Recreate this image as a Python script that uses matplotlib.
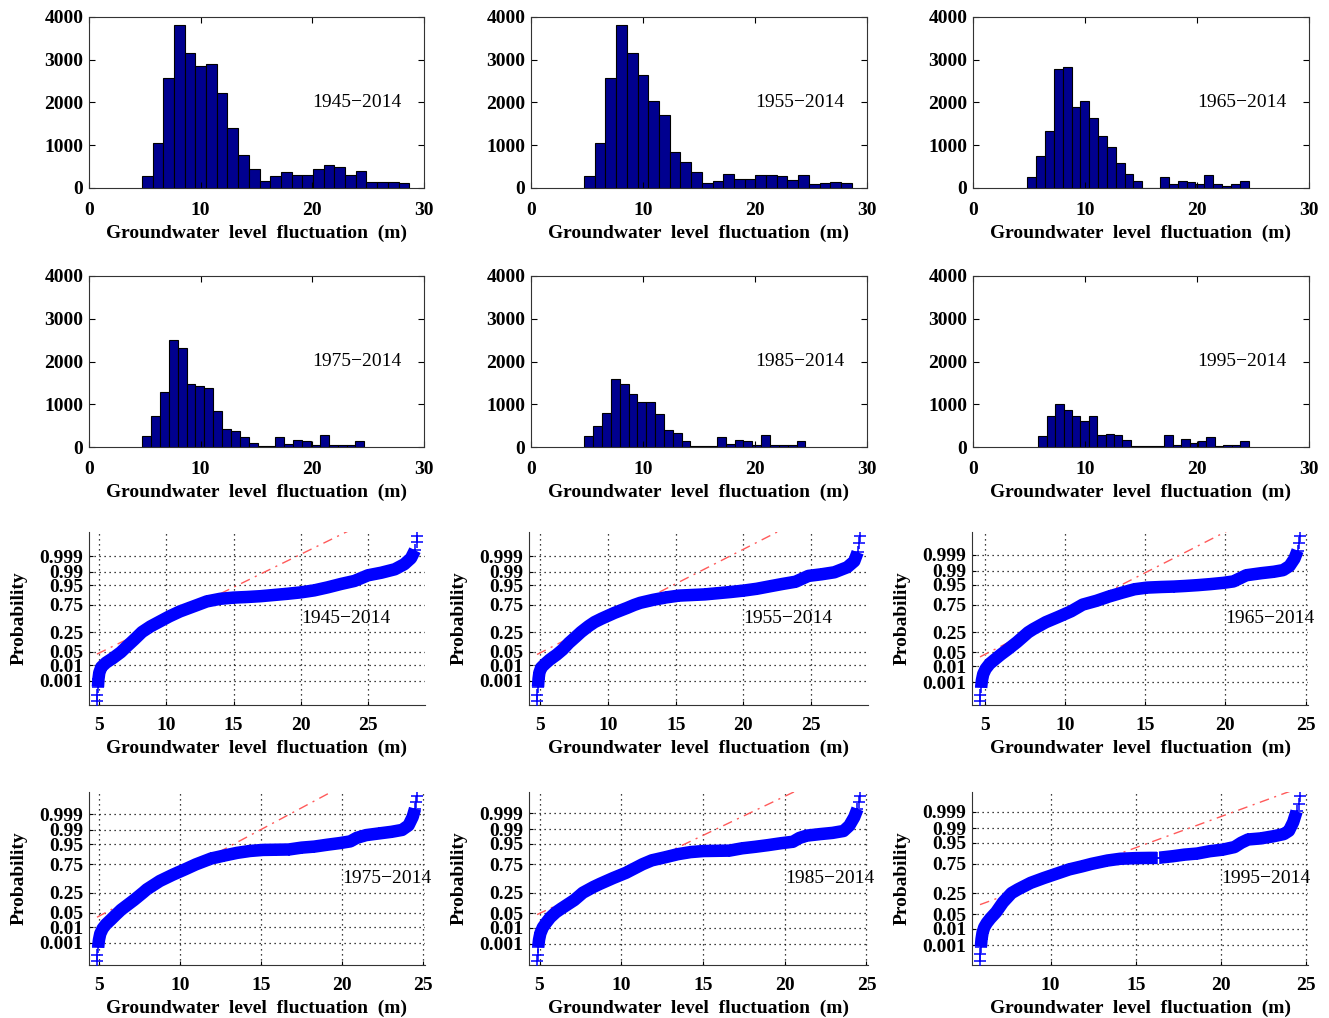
import numpy as np
import matplotlib
matplotlib.use("Agg")
import matplotlib.pyplot as plt
from statistics import NormalDist

plt.rcParams['font.family'] = ['Liberation Serif', 'DejaVu Serif']
plt.rcParams['font.weight'] = 'bold'
plt.rcParams['font.size'] = 14

# ---------------------------------------------------------------------------
# Data
# ---------------------------------------------------------------------------
periods = ["1945\u22122014", "1955\u22122014", "1965\u22122014",
           "1975\u22122014", "1985\u22122014", "1995\u22122014"]

# histogram: (lowest value, highest value) and counts of 25 equal-width bins
range_1945 = (4.74, 28.68)
counts_1945 = [290, 1053, 2580, 3809, 3153, 2847, 2901, 2221, 1397, 763, 450, 168, 282,
               366, 313, 313, 450, 542, 481, 313, 397, 137, 137, 137, 115]
range_1955 = (4.73, 28.64)
counts_1955 = [275, 1053, 2580, 3809, 3153, 2641, 2038, 1702, 847, 618, 366, 107, 160,
               336, 221, 221, 305, 305, 275, 183, 313, 84, 107, 137, 107]
range_1965 = (4.85, 24.60)
counts_1965 = [252, 748, 1328, 2779, 2840, 1893, 2038, 1641, 1214, 962, 595, 336, 160,
               0, 0, 252, 92, 168, 137, 92, 313, 92, 46, 84, 160]
range_1975 = (4.75, 24.66)
counts_1975 = [258, 719, 1297, 2492, 2320, 1477, 1422, 1391, 836, 430, 367, 227, 102,
               23, 23, 227, 78, 164, 133, 55, 281, 47, 47, 47, 133]
range_1985 = (4.76, 24.50)
counts_1985 = [258, 492, 805, 1594, 1477, 1242, 1055, 1055, 773, 391, 336, 133, 16,
               16, 16, 227, 78, 164, 133, 55, 281, 47, 47, 47, 133]
range_1995 = (5.83, 24.60)
counts_1995 = [258, 727, 1016, 859, 727, 609, 727, 281, 313, 289, 164, 16, 16,
               16, 16, 281, 55, 195, 86, 133, 227, 16, 55, 55, 133]

# normal probability plots: fluctuation (m) and its standard normal score
fluct_1945 = [4.83, 4.86, 4.9, 4.94, 5.0, 5.15, 5.5, 6.0, 6.6, 7.1, 7.6, 8.18, 8.8, 9.5,
              10.2, 11.0, 11.6, 12.3, 13.0, 14.0, 15.0, 16.0, 17.0, 18.0, 19.0, 20.0,
              21.0, 22.0, 23.0, 24.0, 25.0, 26.0, 27.0, 27.7, 28.2, 28.5, 28.62, 28.65]
score_1945 = [-4.1, -3.8, -3.4, -3.0, -2.7, -2.42, -2.2, -1.98, -1.68, -1.36, -1.05, -0.674,
              -0.4, -0.15, 0.1, 0.35, 0.5, 0.674, 0.85, 0.98, 1.04, 1.07, 1.11, 1.17, 1.23,
              1.3, 1.4, 1.55, 1.72, 1.87, 2.15, 2.28, 2.45, 2.7, 3.0, 3.4, 3.8, 4.1]
fluct_1955 = [4.75, 4.78, 4.82, 4.86, 4.92, 5.05, 5.35, 5.69, 6.2, 6.64, 7.1, 7.6, 8.0, 8.56,
              9.0, 9.51, 10.47, 11.42, 11.93, 12.38, 13.34, 14.29, 15.25, 16.21, 17.16,
              18.12, 19.08, 20.03, 21.0, 21.94, 22.9, 23.86, 24.81, 25.77, 26.73, 27.68,
              28.2, 28.45, 28.58, 28.62]
score_1955 = [-4.1, -3.8, -3.4, -3.0, -2.7, -2.45, -2.25, -2.05, -1.8, -1.55, -1.22, -0.92,
              -0.674, -0.38, -0.18, -0.01, 0.28, 0.53, 0.674, 0.78, 0.93, 1.05, 1.14, 1.17,
              1.2, 1.26, 1.32, 1.39, 1.48, 1.6, 1.72, 1.83, 2.12, 2.2, 2.3, 2.55, 2.85, 3.3,
              3.75, 4.1]
fluct_1965 = [4.7, 4.73, 4.77, 4.82, 4.9, 5.05, 5.3, 5.64, 6.0, 6.43, 7.0, 7.7, 8.01, 8.8,
              9.59, 10.38, 11.1, 11.96, 12.75, 13.54, 14.33, 15.12, 16.0, 16.8, 17.49, 18.28,
              19.07, 19.86, 20.5, 20.9, 21.3, 22.23, 23.02, 23.6, 24.0, 24.3, 24.5, 24.6,
              24.65]
score_1965 = [-4.0, -3.7, -3.35, -3.0, -2.7, -2.45, -2.2, -1.98, -1.75, -1.5, -1.15, -0.674,
              -0.52, -0.18, 0.08, 0.35, 0.674, 0.86, 1.07, 1.25, 1.42, 1.5, 1.53, 1.55, 1.58,
              1.62, 1.67, 1.73, 1.8, 1.95, 2.1, 2.2, 2.27, 2.35, 2.55, 2.9, 3.3, 3.65, 4.0]
fluct_1975 = [4.85, 4.88, 4.92, 4.97, 5.05, 5.2, 5.4, 5.7, 6.0, 6.34, 7.14, 7.7, 7.93, 8.73,
              9.53, 10.32, 10.95, 11.91, 12.71, 13.51, 14.3, 15.1, 15.9, 16.69, 17.49,
              18.28, 19.08, 19.87, 20.5, 20.9, 21.47, 22.26, 23.06, 23.7, 24.1, 24.35, 24.5,
              24.58, 24.62]
score_1975 = [-3.95, -3.65, -3.3, -2.95, -2.65, -2.4, -2.2, -1.98, -1.75, -1.5, -1.03, -0.674,
              -0.52, -0.12, 0.18, 0.45, 0.674, 0.96, 1.1, 1.23, 1.32, 1.37, 1.38, 1.39, 1.48,
              1.53, 1.62, 1.7, 1.78, 1.95, 2.08, 2.16, 2.24, 2.33, 2.55, 2.95, 3.35, 3.65,
              3.95]
fluct_1985 = [4.85, 4.88, 4.92, 4.97, 5.05, 5.2, 5.4, 5.65, 6.0, 6.34, 7.13, 7.65, 8.3, 8.71,
              9.5, 10.29, 11.3, 11.87, 12.66, 13.45, 14.24, 15.03, 15.82, 16.61, 17.4, 18.19,
              18.98, 19.77, 20.5, 20.9, 21.35, 22.14, 22.93, 23.6, 23.95, 24.25, 24.45,
              24.55, 24.6]
score_1985 = [-3.9, -3.6, -3.25, -2.9, -2.6, -2.32, -2.1, -1.85, -1.6, -1.42, -1.02, -0.674,
              -0.4, -0.25, 0.02, 0.27, 0.674, 0.86, 1.0, 1.15, 1.25, 1.3, 1.31, 1.32, 1.43,
              1.5, 1.58, 1.67, 1.74, 1.92, 2.03, 2.1, 2.16, 2.25, 2.5, 2.9, 3.3, 3.6, 3.9]
# the 1995-2014 record has no values between 16.25 m and 16.4 m
fluct_1995 = [5.85, 5.87, 5.9, 5.94, 6.0, 6.1, 6.25, 6.45, 6.8, 7.2, 7.7, 8.08, 8.83, 9.59,
              10.34, 11.09, 11.84, 12.4, 13.34, 14.09, 15.0, 15.8, 16.25, np.nan, 16.4,
              17.2, 17.85, 18.6, 19.35, 20.1, 20.8, 21.2, 21.6, 22.35, 23.1, 23.7, 24.0,
              24.25, 24.45, 24.6, 24.65]
score_1995 = [-3.8, -3.5, -3.15, -2.8, -2.5, -2.25, -2.05, -1.85, -1.55, -1.1, -0.674, -0.5,
              -0.2, 0.02, 0.22, 0.42, 0.56, 0.674, 0.83, 0.91, 0.94, 0.95, 0.95, np.nan,
              0.96, 1.03, 1.1, 1.15, 1.26, 1.33, 1.45, 1.65, 1.8, 1.85, 1.95, 2.05, 2.2, 2.6,
              3.1, 3.45, 3.8]

# first and third quartiles of each record (reference line of the probability plot)
quartiles = [(8.18, 12.3), (8.0, 11.93), (7.7, 11.1), (7.7, 10.95), (7.65, 11.3), (7.7, 12.4)]

prob_ticks = [0.001, 0.01, 0.05, 0.25, 0.75, 0.95, 0.99, 0.999]
prob_labels = ["0.001", "0.01", "0.05", "0.25", "0.75", "0.95", "0.99", "0.999"]

hist_ranges = [range_1945, range_1955, range_1965, range_1975, range_1985, range_1995]
hist_counts = [counts_1945, counts_1955, counts_1965, counts_1975, counts_1985, counts_1995]
flucts = [fluct_1945, fluct_1955, fluct_1965, fluct_1975, fluct_1985, fluct_1995]
scores = [score_1945, score_1955, score_1965, score_1975, score_1985, score_1995]

# ---------------------------------------------------------------------------
# Layout (pixel boxes: left, top, right, bottom)
# ---------------------------------------------------------------------------
W, H = 1329, 1018
fig = plt.figure(figsize=(W / 100, H / 100), dpi=100)


def box(l, t, r, b):
    return [l / W, 1 - b / H, (r - l) / W, (b - t) / H]


hist_cols = [(89, 424), (531, 867), (973, 1309)]
hist_rows = [(17, 188), (276, 447)]
prob_cols = [(89, 425), (529, 868), (972, 1308)]
prob_rows = [(532, 705), (792, 965)]

XLABEL = "Groundwater  level  fluctuation  (m)"
BAR_COLOR = "#00008f"
z75 = NormalDist().inv_cdf(0.75)

# ---------------------------------------------------------------------------
# Histograms
# ---------------------------------------------------------------------------
for i in range(6):
    r, c = divmod(i, 3)
    l, rr = hist_cols[c]
    t, b = hist_rows[r]
    ax = fig.add_axes(box(l, t, rr, b))
    lo, hi = hist_ranges[i]
    counts = np.array(hist_counts[i], dtype=float)
    edges = np.linspace(lo, hi, len(counts) + 1)
    ax.bar(edges[:-1], counts, width=np.diff(edges), align='edge',
           color=BAR_COLOR, edgecolor='black', linewidth=0.8)
    ax.set_xlim(0, 30)
    ax.set_ylim(0, 4000)
    ax.set_xticks([0, 10, 20, 30])
    ax.set_yticks([0, 1000, 2000, 3000, 4000])
    ax.tick_params(direction='in', top=True, right=True, length=4, width=0.8,
                   labelsize=14)
    ax.tick_params(axis='x', pad=10)
    ax.tick_params(axis='y', pad=4)
    for s in ax.spines.values():
        s.set_linewidth(0.8)
        s.set_color('#333333')
    ax.set_xlabel(XLABEL, fontsize=14, fontweight='bold')
    ax.xaxis.set_label_coords(0.5, -45 / (b - t))
    ax.xaxis.label.set_va('center')
    ax.text(20, 2000, periods[i], fontsize=14, fontweight='normal',
            ha='left', va='center')

# ---------------------------------------------------------------------------
# Normal probability plots
# ---------------------------------------------------------------------------
for i in range(6):
    r, c = divmod(i, 3)
    l, rr = prob_cols[c]
    t, b = prob_rows[r]
    ax = fig.add_axes(box(l, t, rr, b))
    x = np.array(flucts[i], dtype=float)
    z = np.array(scores[i], dtype=float)
    xmin, xmax = np.nanmin(x), np.nanmax(x)
    zmin, zmax = np.nanmin(z), np.nanmax(z)

    # sample points: solid band plus individual '+' markers at the extremes
    ax.plot(x[2:-2], z[2:-2], color='blue', lw=9, solid_capstyle='butt',
            solid_joinstyle='round', zorder=3)
    ax.plot(x, z, linestyle='none', marker='+', color='blue', ms=9, mew=1.1, zorder=3)

    # reference line through the first and third quartiles
    q1, q3 = quartiles[i]
    slope = 2 * z75 / (q3 - q1)
    xl = np.array([xmin, xmax])
    ax.plot(xl, -z75 + slope * (xl - q1), color='#ff5a5a', lw=1.0,
            dashes=(7, 4, 1.5, 4), zorder=2)

    xpad = 0.025 * (xmax - xmin)
    zpad = 0.025 * (zmax - zmin)
    ax.set_xlim(xmin - xpad, xmax + xpad)
    ax.set_ylim(zmin - zpad, zmax + zpad)
    ax.set_xticks([v for v in (5, 10, 15, 20, 25) if xmin - xpad <= v <= xmax + xpad])
    ax.set_yticks([NormalDist().inv_cdf(p) for p in prob_ticks])
    ax.set_yticklabels(prob_labels)
    ax.grid(True, linestyle=(0, (1, 3)), color='black', lw=0.9)
    ax.set_axisbelow(True)
    ax.spines['top'].set_visible(False)
    ax.spines['right'].set_visible(False)
    for s in ('left', 'bottom'):
        ax.spines[s].set_linewidth(0.8)
        ax.spines[s].set_color('#333333')
    ax.tick_params(direction='in', length=3, width=0.8, labelsize=14)
    ax.tick_params(axis='x', pad=8.5)
    ax.tick_params(axis='y', pad=4)
    ax.set_xlabel(XLABEL, fontsize=14, fontweight='bold')
    ax.xaxis.set_label_coords(0.5, -43 / (b - t))
    ax.xaxis.label.set_va('center')
    ax.set_ylabel("Probability", fontsize=14, fontweight='bold')
    ax.yaxis.set_label_coords(-70 / (rr - l), 0.5)
    ax.yaxis.label.set_va('center')
    ax.text(20, 0, periods[i], fontsize=14, fontweight='normal',
            ha='left', va='center', clip_on=False, zorder=5)

fig.savefig("out.png", dpi=100)
